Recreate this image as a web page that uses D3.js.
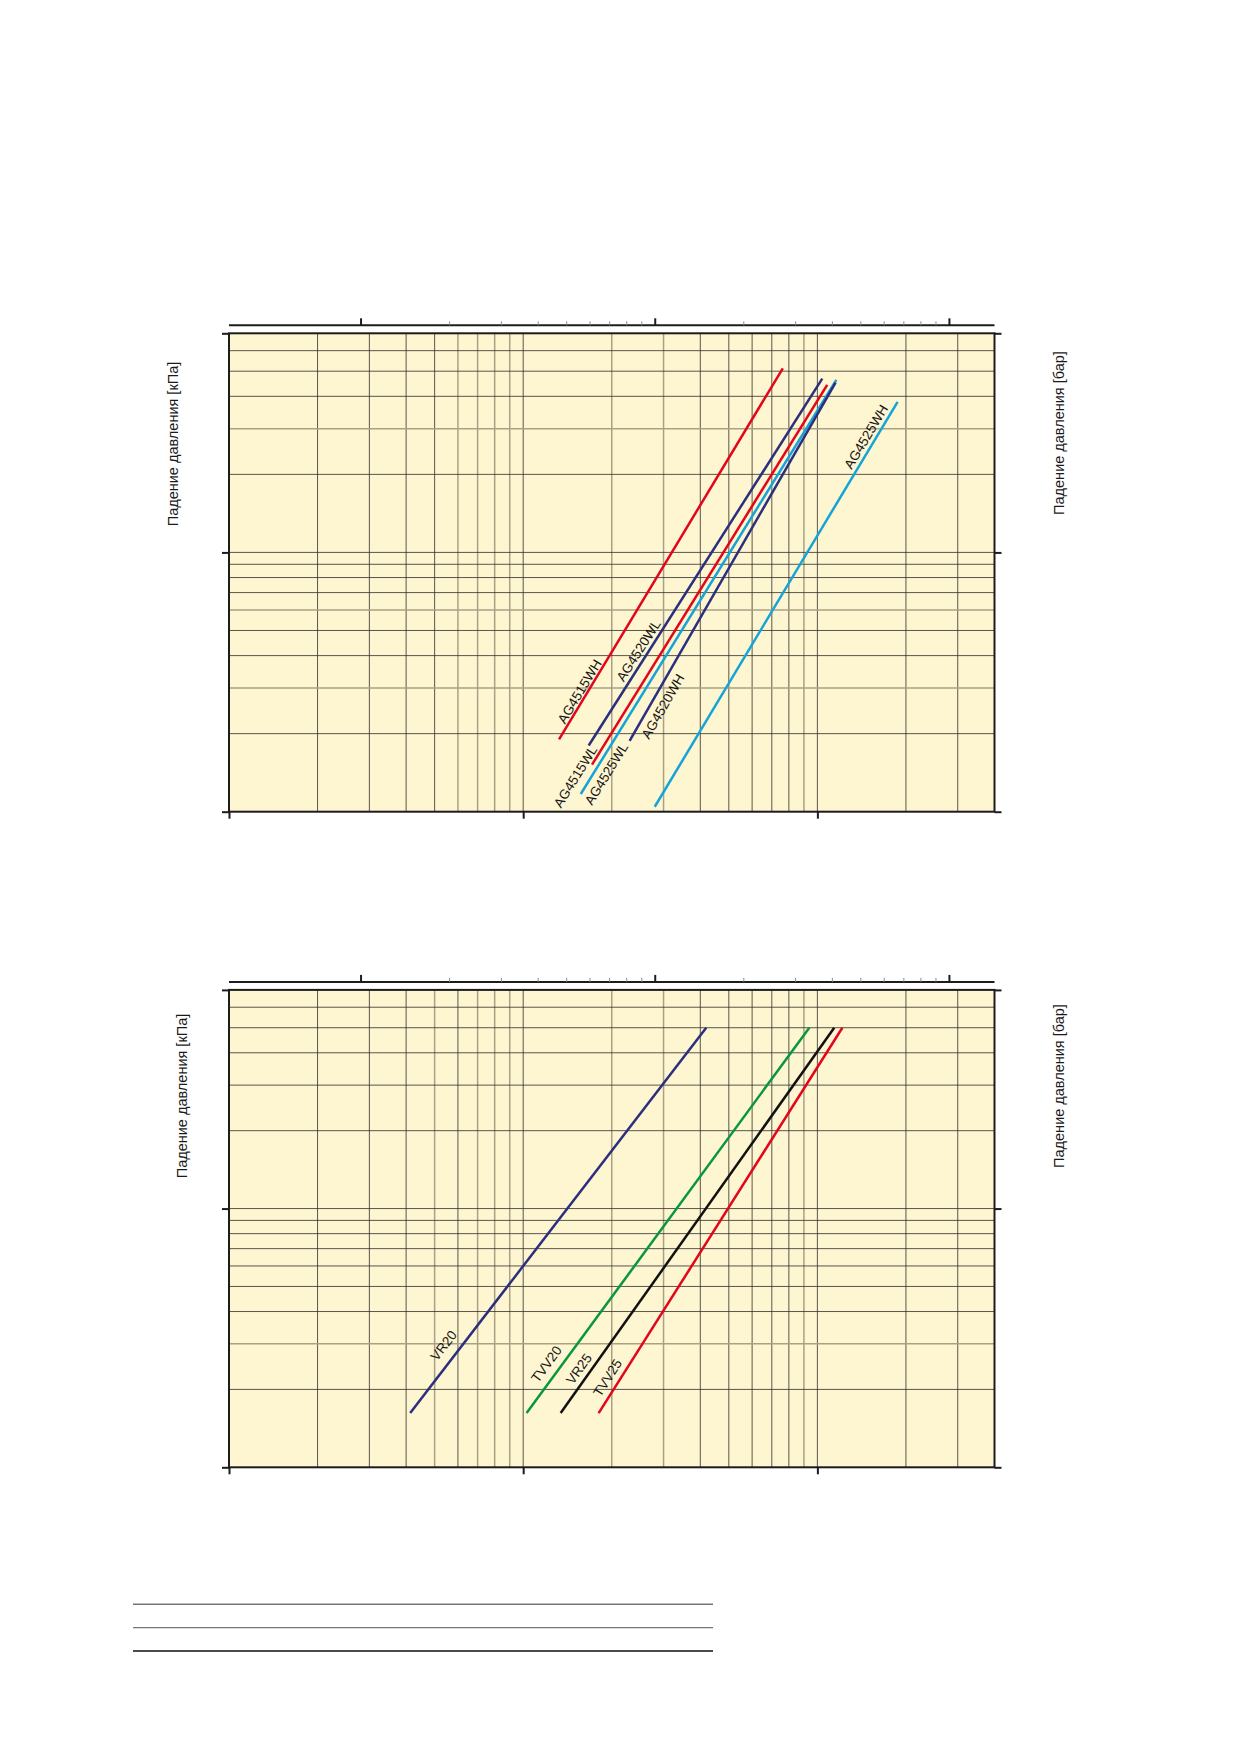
<!DOCTYPE html>
<html>
<head>
<meta charset="utf-8">
<script src="https://cdn.jsdelivr.net/npm/d3@7"></script>
<style>
  html, body { margin: 0; padding: 0; background: #ffffff; }
  svg { display: block; }
  text { font-family: "Liberation Sans", Arial, sans-serif; }
</style>
</head>
<body>
<svg id="page" width="1239" height="1752"></svg>
<script>
// ---------------- DATA ----------------
// flow (bottom axis units), pressure drop [kPa]
const flowDomain = [10, 4000];
const dpDomain = [1, 70];
const topFactor = 2.8;                 // bottom units per top-axis unit
const bottomTicks = [10, 100, 1000];
const topMajorTicks = [10, 100, 1000];
const topMinorTicks = [20, 30, 40, 50, 60, 70, 80, 90, 200, 300, 400, 500, 600, 700, 800, 900];
const sideTicks = [1, 10, 70];
const gridFlow = [20, 30, 40, 50, 60, 70, 80, 90, 100, 200, 300, 400, 500, 600, 700, 800, 900, 1000, 2000, 3000];
const gridDp = [2, 3, 4, 5, 6, 7, 8, 9, 10, 20, 30, 40, 50, 60];

const yTitleLeft = "Падение давления [кПа]";
const yTitleRight = "Падение давления [бар]";

// chart 1 series
const ag4515WH = [[132.4, 1.90], [763, 51.3]];
const ag4520WL = [[167, 1.80], [1039, 46.8]];
const ag4515WL = [[171.4, 1.52], [1080, 44.3]];
const ag4525WL = [[156.9, 1.17], [1160, 46.3]];
const ag4520WH = [[230, 1.875], [1153, 45.2]];
const ag4525WH = [[280, 1.045], [1874, 38.1]];
const chart1Names = ["AG4515WH", "AG4520WL", "AG4515WL", "AG4525WL", "AG4520WH", "AG4525WH"];
const chart1Values = [ag4515WH, ag4520WL, ag4515WL, ag4525WL, ag4520WH, ag4525WH];
const chart1LabelAt = [[155.7, 2.906], [247, 4.18], [150.7, 1.365], [191.9, 1.398], [298.7, 2.544], [1466, 27.9]];
const chart1Colors = ["#e3051b", "#2b2f7e", "#e3051b", "#14a4d8", "#2b2f7e", "#14a4d8"];
const chart1GrayFlow = [60, 70, 80, 90, 200, 300, 900];
const chart1GrayDp = [3, 6, 30];

// chart 2 series
const vr20 = [[41.3, 1.62], [419, 50]];
const tvv20 = [[102.7, 1.62], [939, 50]];
const vr25 = [[134.1, 1.62], [1141, 50]];
const tvv25 = [[180.5, 1.62], [1216, 50]];
const chart2Names = ["VR20", "TVV20", "VR25", "TVV25"];
const chart2Values = [vr20, tvv20, vr25, tvv25];
const chart2LabelAt = [[53.7, 2.953], [120.1, 2.502], [154.9, 2.399], [193.8, 2.215]];
const chart2Colors = ["#2b2f7e", "#0a9640", "#111111", "#e3051b"];
const chart2GrayFlow = [50, 70, 80, 90, 200, 300, 900];
const chart2GrayDp = [3];

// ---------------- LAYOUT ----------------
const svg = d3.select("#page");
const plotLeft = 229, plotRight = 994.5;

function drawChart(cfg) {
  const x = d3.scaleLog().domain(flowDomain).range([plotLeft, plotRight]);
  const xTop = d3.scaleLog().domain(flowDomain.map(d => d / topFactor)).range([plotLeft, plotRight]);
  const y = d3.scaleLog().domain(dpDomain).range([cfg.bottom, cfg.top]);
  const g = svg.append("g");

  // background
  g.append("rect")
    .attr("x", plotLeft).attr("y", cfg.top)
    .attr("width", plotRight - plotLeft).attr("height", cfg.bottom - cfg.top)
    .attr("fill", "#fef5d1");

  // grid
  g.selectAll(".vg").data(gridFlow).join("line")
    .attr("x1", d => x(d)).attr("x2", d => x(d))
    .attr("y1", cfg.top).attr("y2", cfg.bottom)
    .attr("stroke", d => cfg.grayFlow.includes(d) ? "#a9a186" : "#2e2e2a")
    .attr("stroke-width", d => cfg.grayFlow.includes(d) ? 1.5 : 0.8);
  g.selectAll(".hg").data(gridDp).join("line")
    .attr("y1", d => y(d)).attr("y2", d => y(d))
    .attr("x1", plotLeft).attr("x2", plotRight)
    .attr("stroke", d => cfg.grayDp.includes(d) ? "#a9a186" : "#2e2e2a")
    .attr("stroke-width", d => cfg.grayDp.includes(d) ? 1.5 : 0.8);

  // series
  const line = d3.line().x(d => x(d[0])).y(d => y(d[1]));
  cfg.values.forEach((vals, i) => {
    g.append("path").attr("d", line(vals))
      .attr("fill", "none").attr("stroke", cfg.colors[i])
      .attr("stroke-width", 2.5);
  });

  // labels along lines
  cfg.values.forEach((vals, i) => {
    const p0 = vals[0], p1 = vals[1];
    const ang = Math.atan2(y(p1[1]) - y(p0[1]), x(p1[0]) - x(p0[0])) * 180 / Math.PI;
    const lx = x(cfg.labelAt[i][0]), ly = y(cfg.labelAt[i][1]);
    g.append("text")
      .attr("transform", `translate(${lx},${ly}) rotate(${ang})`)
      .attr("text-anchor", "middle").attr("dominant-baseline", "central")
      .attr("font-size", 13.5).attr("fill", "#141414")
      .text(cfg.names[i]);
  });

  // frame
  g.append("rect")
    .attr("x", plotLeft).attr("y", cfg.top)
    .attr("width", plotRight - plotLeft).attr("height", cfg.bottom - cfg.top)
    .attr("fill", "none").attr("stroke", "#1c1c1c").attr("stroke-width", 2);

  // bottom axis ticks
  const bAxis = d3.axisBottom(x).tickValues(bottomTicks).tickSize(7).tickFormat("");
  const ba = g.append("g").attr("transform", `translate(0,${cfg.bottom})`).call(bAxis);
  ba.select(".domain").remove();
  ba.selectAll("line").attr("stroke", "#1c1c1c").attr("stroke-width", 2);

  // left & right ticks
  const lAxis = d3.axisLeft(y).tickValues(sideTicks).tickSize(7).tickFormat("");
  const la = g.append("g").attr("transform", `translate(${plotLeft},0)`).call(lAxis);
  la.select(".domain").remove();
  la.selectAll("line").attr("stroke", "#1c1c1c").attr("stroke-width", 2);
  const rAxis = d3.axisRight(y).tickValues(sideTicks).tickSize(7).tickFormat("");
  const ra = g.append("g").attr("transform", `translate(${plotRight},0)`).call(rAxis);
  ra.select(".domain").remove();
  ra.selectAll("line").attr("stroke", "#1c1c1c").attr("stroke-width", 2);

  // top axis
  const ty = cfg.top - 8;
  g.append("line").attr("x1", plotLeft).attr("x2", plotRight)
    .attr("y1", ty).attr("y2", ty).attr("stroke", "#1c1c1c").attr("stroke-width", 2);
  const tMinor = d3.axisTop(xTop).tickValues(topMinorTicks).tickSize(4).tickFormat("");
  const tm = g.append("g").attr("transform", `translate(0,${ty})`).call(tMinor);
  tm.select(".domain").remove();
  tm.selectAll("line").attr("stroke", "#8a8a8a").attr("stroke-width", 1);
  const tMajor = d3.axisTop(xTop).tickValues(topMajorTicks).tickSize(7).tickFormat("");
  const tj = g.append("g").attr("transform", `translate(0,${ty})`).call(tMajor);
  tj.select(".domain").remove();
  tj.selectAll("line").attr("stroke", "#1c1c1c").attr("stroke-width", 2);

  // axis titles
  g.append("text")
    .attr("transform", `translate(${cfg.leftTitle[0]},${cfg.leftTitle[1]}) rotate(-90)`)
    .attr("text-anchor", "middle").attr("dominant-baseline", "central")
    .attr("font-size", 14.5).attr("fill", "#1a1a1a").text(yTitleLeft);
  g.append("text")
    .attr("transform", `translate(${cfg.rightTitle[0]},${cfg.rightTitle[1]}) rotate(-90)`)
    .attr("text-anchor", "middle").attr("dominant-baseline", "central")
    .attr("font-size", 14.5).attr("fill", "#1a1a1a").text(yTitleRight);
}

drawChart({
  top: 333.3, bottom: 811.7,
  values: chart1Values, names: chart1Names, colors: chart1Colors, labelAt: chart1LabelAt,
  grayFlow: chart1GrayFlow, grayDp: chart1GrayDp,
  leftTitle: [173, 444], rightTitle: [1059, 433]
});
drawChart({
  top: 989.9, bottom: 1467.3,
  values: chart2Values, names: chart2Names, colors: chart2Colors, labelAt: chart2LabelAt,
  grayFlow: chart2GrayFlow, grayDp: chart2GrayDp,
  leftTitle: [182, 1096], rightTitle: [1059, 1086]
});

// footer rules
const footerRules = [{c: "#767676"}, {c: "#767676"}, {c: "#111111"}];
svg.selectAll(".rule").data(footerRules).join("line")
  .attr("x1", 133).attr("x2", 713)
  .attr("y1", (d, i) => 1604.3 + i * 23.35).attr("y2", (d, i) => 1604.3 + i * 23.35)
  .attr("stroke", d => d.c).attr("stroke-width", 1.4);
</script>
</body>
</html>
